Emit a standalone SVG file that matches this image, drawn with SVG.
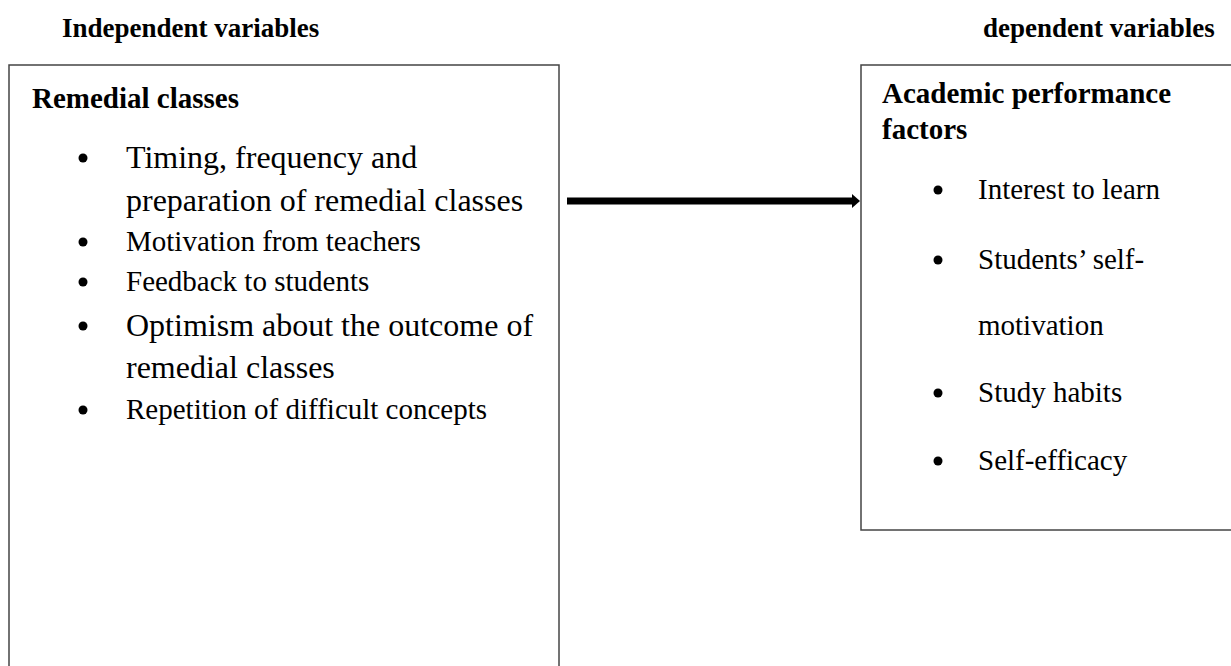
<svg xmlns="http://www.w3.org/2000/svg" width="1231" height="666" viewBox="0 0 1231 666">
<defs>
<style>
text{font-family:"Liberation Serif","Times New Roman",serif;fill:#000}
.top{font-weight:bold;font-size:27px}
.h{font-weight:bold;font-size:29px}
.big{font-size:32px}
.sm{font-size:29px}
.box{fill:#fff;stroke:#444;stroke-width:1.5}
.dot{fill:#000}
</style>
<marker id="ah" markerWidth="8" markerHeight="14" refX="1" refY="7" orient="auto" markerUnits="userSpaceOnUse">
<path d="M0,0 L8,7 L0,14 Z" fill="#000"/>
</marker>
</defs>
<rect width="1231" height="666" fill="#fff"/>
<g id="label-independent"><text class="top" x="62" y="37">Independent variables</text></g>
<g id="label-dependent"><text class="top" x="983" y="37">dependent variables</text></g>
<g id="node-remedial">
<rect class="box" x="9" y="65" width="550" height="620"/>
<text class="h" x="32" y="108">Remedial classes</text>
<circle class="dot" cx="83" cy="158" r="4.5"/>
<text class="big" x="126" y="168">Timing, frequency and</text>
<text class="big" x="126" y="211">preparation of remedial classes</text>
<circle class="dot" cx="83" cy="242" r="4.5"/>
<text class="sm" x="126" y="251">Motivation from teachers</text>
<circle class="dot" cx="83" cy="282" r="4.5"/>
<text class="sm" x="126" y="291">Feedback to students</text>
<circle class="dot" cx="83" cy="326" r="4.5"/>
<text class="big" x="126" y="336">Optimism about the outcome of</text>
<text class="big" x="126" y="378">remedial classes</text>
<circle class="dot" cx="83" cy="410" r="4.5"/>
<text class="sm" x="126" y="419">Repetition of difficult concepts</text>
</g>
<g id="node-academic">
<rect class="box" x="861" y="65" width="400" height="465"/>
<text class="h" x="882" y="103">Academic performance</text>
<text class="h" x="882" y="139">factors</text>
<circle class="dot" cx="938" cy="190" r="4.5"/>
<text class="sm" x="978" y="199">Interest to learn</text>
<circle class="dot" cx="938" cy="260" r="4.5"/>
<text class="sm" x="978" y="269">Students’ self-</text>
<text class="sm" x="978" y="335">motivation</text>
<circle class="dot" cx="938" cy="393" r="4.5"/>
<text class="sm" x="978" y="402">Study habits</text>
<circle class="dot" cx="938" cy="461" r="4.5"/>
<text class="sm" x="978" y="470">Self-efficacy</text>
</g>
<g id="connectors">
<line x1="567" y1="201" x2="853" y2="201" stroke="#000" stroke-width="7" marker-end="url(#ah)"/>
</g>
</svg>
